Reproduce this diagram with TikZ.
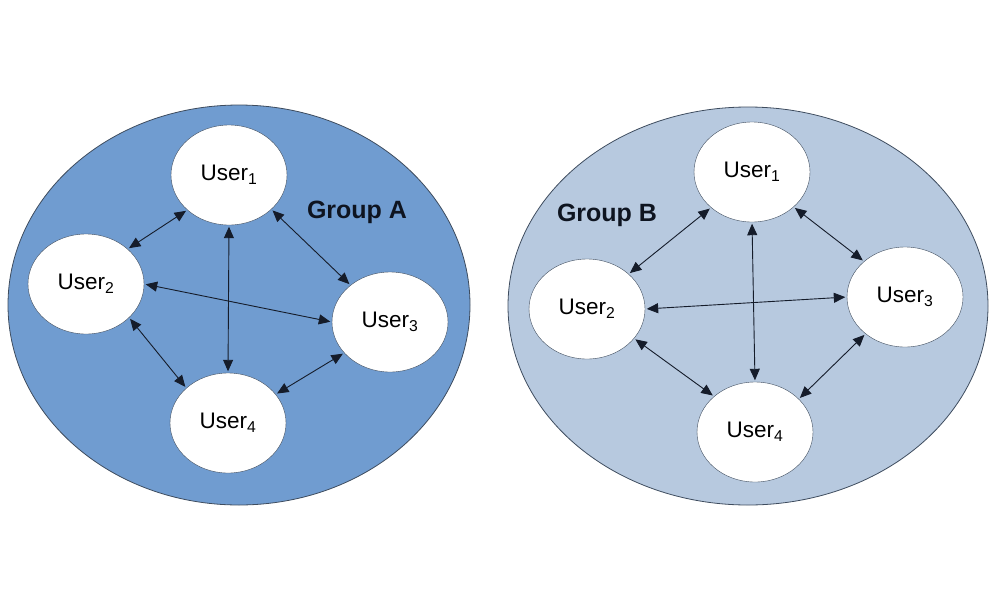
\documentclass[tikz,border=0pt]{standalone}
\usepackage{fontspec}
\setmainfont{Liberation Sans}
\usepackage{xcolor}
\usetikzlibrary{arrows.meta,shapes.geometric}
\definecolor{groupablue}{HTML}{709CD0}
\definecolor{groupbblue}{HTML}{B7C9DF}
\definecolor{linknavy}{HTML}{151C2A}
\definecolor{rimgray}{HTML}{3E4C5E}
\definecolor{labelink}{HTML}{0E1420}

\begin{document}
\begin{tikzpicture}[x=1pt,y=-1pt,
  user/.style={ellipse,draw=rimgray,fill=white,minimum width=116pt,minimum height=100pt,inner sep=0pt,font=\fontsize{22.5}{26}\selectfont},
  link/.style={{Triangle[length=11.5pt,width=10pt]}-{Triangle[length=11.5pt,width=10pt]},linknavy,line width=0.9pt,shorten <=1.5pt,shorten >=1.5pt},
  grouplabel/.style={font=\fontsize{25}{29}\selectfont\bfseries,text=labelink}]
  \useasboundingbox (0,0) rectangle (992,600);
  \draw[rimgray,fill=groupablue,line width=0.8pt] (239,305) ellipse [x radius=231,y radius=200];
  \draw[rimgray,fill=groupbblue,line width=0.8pt] (748,306) ellipse [x radius=240,y radius=199];

  \node[user] (a1) at (229,175) {User\textsubscript{1}};
  \node[user] (a2) at (86,284) {User\textsubscript{2}};
  \node[user] (a3) at (390,322) {User\textsubscript{3}};
  \node[user] (a4) at (228,423) {User\textsubscript{4}};
  \node[grouplabel] (ga) at (357,212) {Group A};
  \draw[link] (a1.220) -- (a2.40);
  \draw[link] (a1.321) -- (a3.137);
  \draw[link] (a1.south) -- (a4.north);
  \draw[link] (a2.east) -- (a3.west);
  \draw[link] (a2.322) -- (a4.140);
  \draw[link] (a4.31) -- (a3.214);

  \node[user] (b1) at (752,172) {User\textsubscript{1}};
  \node[user] (b2) at (587,309) {User\textsubscript{2}};
  \node[user] (b3) at (905,297) {User\textsubscript{3}};
  \node[user] (b4) at (755,432) {User\textsubscript{4}};
  \node[grouplabel] (gb) at (607,215) {Group B};
  \draw[link] (b1.221) -- (b2.40);
  \draw[link] (b1.320) -- (b3.139);
  \draw[link] (b1.south) -- (b4.north);
  \draw[link] (b2.east) -- (b3.west);
  \draw[link] (b2.328) -- (b4.139);
  \draw[link] (b4.37) -- (b3.223);
\end{tikzpicture}
\end{document}
